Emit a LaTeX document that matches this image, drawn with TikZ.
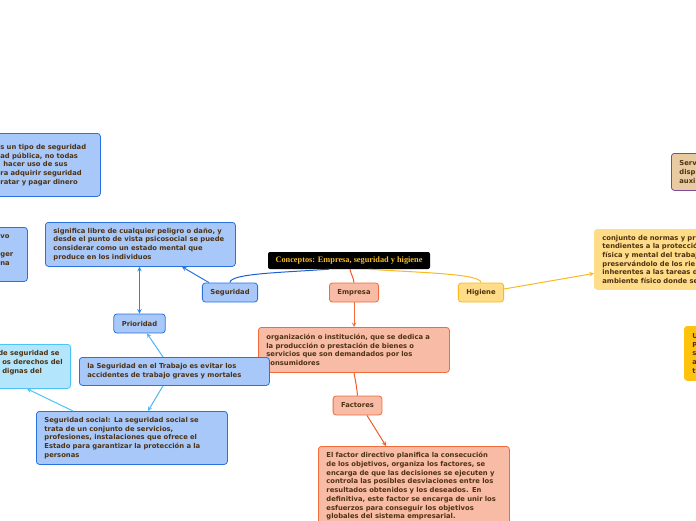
\documentclass[tikz,border=0pt]{standalone}
\usepackage{fontspec}
\setmainfont{DejaVu Sans}
\newfontfamily\rootfont{Liberation Serif}
\usepackage{tikz}
\usetikzlibrary{arrows,positioning}
\definecolor{txtbrown}{HTML}{4E3214}
\definecolor{rootgold}{HTML}{F5BD2E}
\definecolor{bluefill}{HTML}{A7C8F8}
\definecolor{bluedraw}{HTML}{2A72E0}
\definecolor{bluedark}{HTML}{1E5FD0}
\definecolor{bluemid}{HTML}{1E88E5}
\definecolor{bluelight}{HTML}{4DB6F4}
\definecolor{cyanfill}{HTML}{B3E5FC}
\definecolor{cyandraw}{HTML}{4FC3F7}
\definecolor{redfill}{HTML}{F8BBA6}
\definecolor{reddraw}{HTML}{F26B3A}
\definecolor{redline}{HTML}{F05A28}
\definecolor{yellowfill}{HTML}{FFDC87}
\definecolor{yellowdraw}{HTML}{F9B820}
\definecolor{tanfill}{HTML}{E8CBA0}
\definecolor{tandraw}{HTML}{7E4A9E}
\definecolor{amberfill}{HTML}{FFC20E}
\tikzset{
    >=stealth,
    x=1pt, y=-1pt,
    font=\fontsize{6.8}{8.7}\selectfont\bfseries,
    root/.style={fill=black, rounded corners=2pt, text=rootgold, minimum width=162pt, minimum height=17pt, font=\fontsize{8.3}{9}\selectfont\rootfont\bfseries},
    topic/.style={draw, rounded corners=3pt, line width=0.8pt, inner xsep=8pt, minimum height=19pt, text=txtbrown, font=\fontsize{6.8}{8}\selectfont\bfseries},
    note/.style={draw, rounded corners=3pt, line width=0.8pt, align=left, anchor=north west, inner xsep=8pt, inner ysep=4pt, text=txtbrown},
    blue box/.style={draw=bluedraw, fill=bluefill},
    cyan box/.style={draw=cyandraw, fill=cyanfill},
    red box/.style={draw=reddraw, fill=redfill},
    yellow box/.style={draw=yellowdraw, fill=yellowfill},
    link/.style={line width=1pt}
}
\begin{document}
\begin{tikzpicture}
    \useasboundingbox (0,0) rectangle (696,520);
    \clip (0,0) rectangle (696,520);
    % main topics
    \node[root] (root) at (349,260.5) {Conceptos: Empresa, seguridad y higiene};
    \node[topic, blue box] (seguridad) at (230,292.5) {Seguridad};
    \node[topic, red box] (empresa) at (354,292.5) {Empresa};
    \node[topic, yellow box] (higiene) at (481,292.5) {Higiene};
    \node[topic, blue box] (prioridad) at (139.5,323.5) {Prioridad};
    \node[topic, red box] (factores) at (357.5,405.5) {Factores};
    % seguridad
    \node[note, blue box, text width=92pt, minimum height=63pt] (publica) at (-8,133) {s un tipo de seguridad\\ad p\'ublica, no todas\\\hspace*{3pt}hacer uso de sus\\ra adquirir seguridad\\ratar y pagar dinero};
    \node[note, blue box, text width=19pt, minimum height=54pt] (proteger) at (-8,227) {vo\\\mbox{}\\ger\\na\\\mbox{}};
    \node[note, blue box, text width=174pt, minimum height=44pt] (significado) at (45,222) {significa libre de cualquier peligro o daño, y\\desde el punto de vista psicosocial se puede\\considerar como un estado mental que\\produce en los individuos};
    \node[note, cyan box, anchor=north east, minimum height=44pt] (derechos) at (71,344) {de seguridad se\\\hspace*{4pt}os derechos del\\\hspace*{4pt}dignas del\\\mbox{}};
    \node[note, blue box, text width=175pt, minimum height=53pt] (social) at (36,411) {Seguridad social: La seguridad social se\\trata de un conjunto de servicios,\\profesiones, instalaciones que ofrece el\\Estado para garantizar la protección a la\\personas};
    % empresa
    \node[note, red box, text width=175pt, minimum height=45pt] (organizacion) at (258,327) {organización o institución, que se dedica a\\la producción o prestación de bienes o\\servicios que son demandados por los\\consumidores};
    \node[note, blue box, text width=174pt, minimum height=28pt] (trabajo) at (79,357) {la Seguridad en el Trabajo es evitar los\\accidentes de trabajo graves y mortales};
    \node[note, red box, text width=175pt, inner ysep=6pt] (factor) at (318,446) {El factor directivo planifica la consecución\\de los objetivos, organiza los factores, se\\encarga de que las decisiones se ejecuten y\\controla las posibles desviaciones entre los\\resultados obtenidos y los deseados. En\\definitiva, este factor se encarga de unir los\\esfuerzos para conseguir los objetivos\\globales del sistema empresarial.};
    % higiene
    \node[note, draw=tandraw, fill=tanfill, text width=90pt, minimum height=37pt] (servicios) at (671,153) {Serv\\disp\\auxi};
    \node[note, yellow box, draw=yellowfill, text width=130pt, minimum height=60pt] (normas) at (594,229) {conjunto de normas y pr\\tendientes a la protecció\\física y mental del trabaj\\preservándolo de los rie\\inherentes a las tareas d\\ambiente físico donde se};
    \node[note, draw=amberfill, fill=amberfill, text width=90pt, minimum height=54pt] (ambar) at (684,326) {U\\P\\s\\a\\t};
    \path[link]
        ([xshift=-20pt]root.south) edge [draw=bluedark, out=184, in=90, out distance=50pt, in distance=9pt] (seguridad.north)
        ([xshift=1pt]root.south) edge [draw=redline, out=-80, in=95] (empresa.north)
        ([xshift=20pt]root.south) edge [draw=yellowdraw, out=-4, in=90, out distance=50pt, in distance=9pt] (higiene.north)
        ([xshift=7pt]seguridad.north west) edge [->, draw=bluedraw] ([xshift=137pt]significado.south west)
        (prioridad.north) edge [<->, draw=bluemid] (prioridad.north |- significado.south)
        ([xshift=84pt]trabajo.north west) edge [->, draw=bluelight] ([xshift=7.5pt]prioridad.south)
        ([xshift=84pt]trabajo.south west) edge [->, draw=bluelight] ([xshift=112pt]social.north west)
        ([xshift=37pt]social.north west) edge [->, draw=cyandraw] ([xshift=-44pt]derechos.south east)
        ([yshift=3.5pt]higiene.east) edge [->, draw=yellowdraw] ([yshift=-14pt]normas.west)
        (empresa.south) edge [->, draw=reddraw] (empresa.south |- organizacion.north)
        (empresa.south |- organizacion.south) edge [draw=redline, out=-80, in=95] (factores.north)
        ([xshift=9.5pt]factores.south) edge [->, draw=redline] ([xshift=68pt]factor.north west)
        ;
\end{tikzpicture}
\end{document}
